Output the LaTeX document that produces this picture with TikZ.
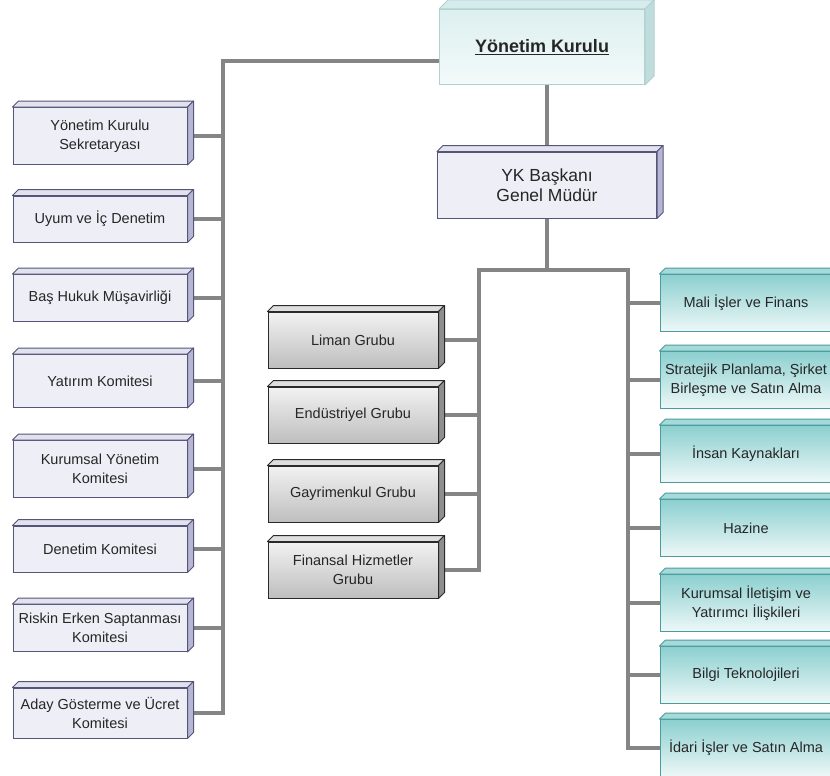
\documentclass[tikz,border=0pt]{standalone}
\usepackage{fontspec}
\setmainfont{Liberation Sans}
\definecolor{linkgray}{HTML}{858585}
\definecolor{lavline}{HTML}{55557A}
\definecolor{lavfill}{HTML}{EEEEF6}
\definecolor{lavtopc}{HTML}{E2E2EE}
\definecolor{lavsidec}{HTML}{B6B6D4}
\definecolor{greyline}{HTML}{2A2A2A}
\definecolor{greyhi}{HTML}{F2F2F2}
\definecolor{greylo}{HTML}{BEBEBE}
\definecolor{greytopc}{HTML}{DEDEDE}
\definecolor{greysidec}{HTML}{8E8E8E}
\definecolor{tealline}{HTML}{4C9C9C}
\definecolor{tealhi}{HTML}{8CCFCF}
\definecolor{teallo}{HTML}{EEF8F8}
\definecolor{tealtopc}{HTML}{A6DADA}
\definecolor{tealsidec}{HTML}{74BEBE}
\definecolor{skyline}{HTML}{B2D2D2}
\definecolor{skyhi}{HTML}{DDEFEF}
\definecolor{skylo}{HTML}{F3FAFA}
\definecolor{skytopc}{HTML}{D6EBEB}
\definecolor{skysidec}{HTML}{C0DDDD}
\newcommand{\unitfaces}[3][6pt]{%
  \filldraw[#3top] (#2.north west) -- ++(#1,#1) -- ([shift={(#1,#1)}]#2.north east) -- (#2.north east) -- cycle;
  \filldraw[#3side] (#2.north east) -- ([shift={(#1,#1)}]#2.north east) -- ([shift={(#1,#1)}]#2.south east) -- (#2.south east) -- cycle;}
\begin{document}
\begin{tikzpicture}[x=1pt, y=-1pt]
  \tikzstyle{unit}=[draw, line width=1pt, align=center, inner sep=2pt, text=black!85, font=\fontsize{14.5}{19}\selectfont]
  \tikzstyle{memberbox}=[unit, draw=lavline, fill=lavfill, minimum width=174pt, minimum height=52pt]
  \tikzstyle{membertop}=[draw=lavline, fill=lavtopc, line width=1pt, line join=round]
  \tikzstyle{memberside}=[draw=lavline, fill=lavsidec, line width=1pt, line join=round]
  \tikzstyle{groupbox}=[unit, draw=greyline, top color=greyhi, bottom color=greylo, minimum width=170pt, minimum height=56pt]
  \tikzstyle{grouptop}=[draw=greyline, fill=greytopc, line width=1pt, line join=round]
  \tikzstyle{groupside}=[draw=greyline, fill=greysidec, line width=1pt, line join=round]
  \tikzstyle{deptbox}=[unit, draw=tealline, top color=tealhi, bottom color=teallo, minimum width=172pt, minimum height=57pt]
  \tikzstyle{depttop}=[draw=tealline, fill=tealtopc, line width=1pt, line join=round]
  \tikzstyle{deptside}=[draw=tealline, fill=tealsidec, line width=1pt, line join=round]
  \tikzstyle{boardbox}=[unit, draw=skyline, top color=skyhi, bottom color=skylo, minimum width=205pt, minimum height=75pt]
  \tikzstyle{boardtop}=[draw=skyline, fill=skytopc, line width=1pt, line join=round]
  \tikzstyle{boardside}=[draw=skyline, fill=skysidec, line width=1pt, line join=round]
  \tikzstyle{link}=[draw=linkgray, line width=3.5pt]
  \useasboundingbox[fill=white] (0,0) rectangle (830,776);
  \clip (0,0) rectangle (830,776);
  \node [boardbox] (yk) at (542,47) {\fontsize{18}{22}\selectfont\bfseries\underline{Yönetim Kurulu}};
  \node [memberbox, minimum width=219pt, minimum height=66pt, font=\fontsize{17.5}{20}\selectfont] (gm) at (547,185) {YK Başkanı\\Genel Müdür};
  \node [memberbox, minimum height=57pt] (sekr) at (100,136) {Yönetim Kurulu\\Sekretaryası};
  \node [memberbox, minimum height=46pt] (uyum) at (100,219) {Uyum ve İç Denetim};
  \node [memberbox, minimum height=47pt] (hukuk) at (100,298) {Baş Hukuk Müşavirliği};
  \node [memberbox, minimum height=53pt] (yatirim) at (100,381) {Yatırım Komitesi};
  \node [memberbox, minimum height=57pt] (kyk) at (100,469) {Kurumsal Yönetim\\Komitesi};
  \node [memberbox, minimum height=46pt] (denetim) at (100,549) {Denetim Komitesi};
  \node [memberbox, minimum height=47pt] (risk) at (100,628) {Riskin Erken Saptanması\\Komitesi};
  \node [memberbox, minimum height=50pt] (aday) at (100,713) {Aday Gösterme ve Ücret\\Komitesi};
  \node [groupbox] (liman) at (353,340) {Liman Grubu};
  \node [groupbox] (endustri) at (353,415) {Endüstriyel Grubu};
  \node [groupbox] (gayri) at (353,494) {Gayrimenkul Grubu};
  \node [groupbox] (finans) at (353,570) {Finansal Hizmetler\\Grubu};
  \node [deptbox] (mali) at (746,303) {Mali İşler ve Finans};
  \node [deptbox] (strateji) at (746,380) {Stratejik Planlama, Şirket\\Birleşme ve Satın Alma};
  \node [deptbox] (ik) at (746,454) {İnsan Kaynakları};
  \node [deptbox] (hazine) at (746,528) {Hazine};
  \node [deptbox] (iletisim) at (746,603) {Kurumsal İletişim ve\\Yatırımcı İlişkileri};
  \node [deptbox] (bilgi) at (746,675) {Bilgi Teknolojileri};
  \node [deptbox] (idari) at (746,748) {İdari İşler ve Satın Alma};
  \coordinate (lspine) at (223,713);
  \coordinate (hub) at (547,270);
  \coordinate (mspine) at (479,270);
  \coordinate (rspine) at (628,270);
  \draw [link] ([yshift=-14pt]yk.west) -| (lspine) -- (aday.east);
  \foreach \n in {sekr,uyum,hukuk,yatirim,kyk,denetim,risk}
    \draw [link] (\n.east) -- (\n.east -| lspine);
  \draw [link] (yk.south -| gm.north) -- (gm.north);
  \draw [link] (gm.south) -- (hub);
  \draw [link] (finans.east) -| (mspine) -- (rspine) |- (idari.west);
  \foreach \n in {liman,endustri,gayri}
    \draw [link] (\n.east) -- (\n.east -| mspine);
  \foreach \n in {mali,strateji,ik,hazine,iletisim,bilgi}
    \draw [link] (\n.west) -- (\n.west -| rspine);
  \foreach \n in {gm,sekr,uyum,hukuk,yatirim,kyk,denetim,risk,aday}
    {\unitfaces{\n}{member}}
  \foreach \n in {liman,endustri,gayri,finans}
    {\unitfaces{\n}{group}}
  \foreach \n in {mali,strateji,ik,hazine,iletisim,bilgi,idari}
    {\unitfaces{\n}{dept}}
  \unitfaces[9pt]{yk}{board}
\end{tikzpicture}
\end{document}
